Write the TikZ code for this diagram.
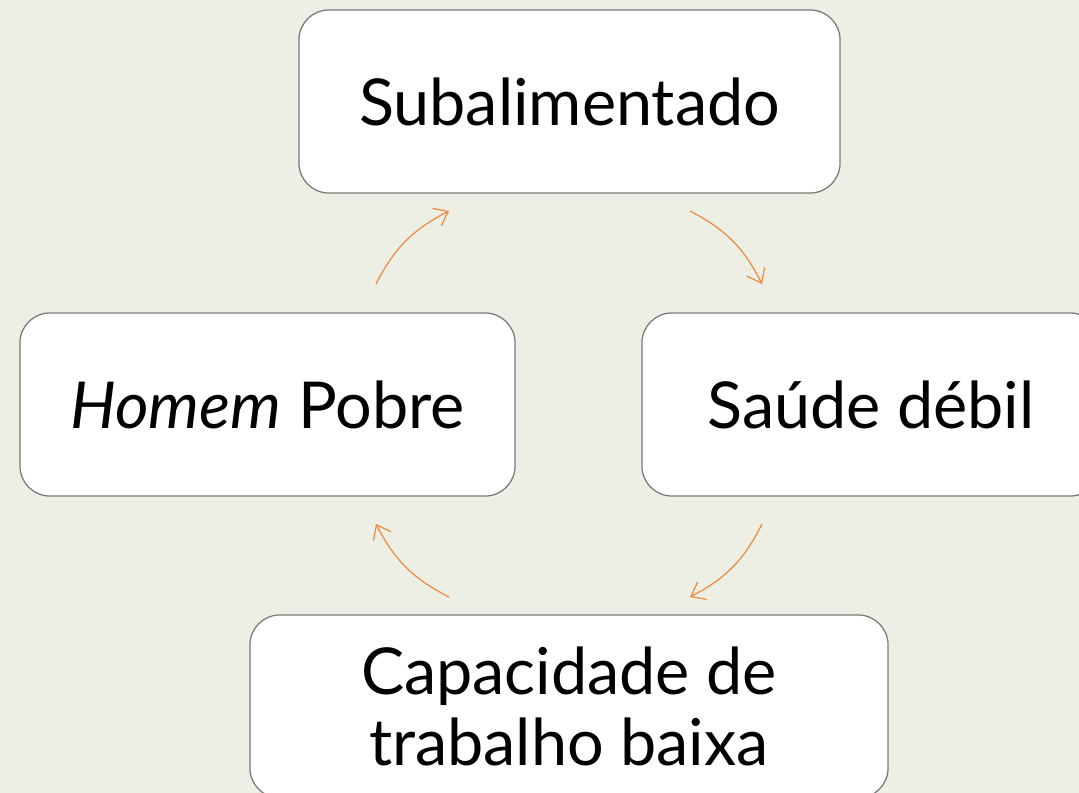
\documentclass[tikz,border=0pt]{standalone}
\usepackage{fontspec}
\setmainfont{Lato}
\usetikzlibrary{arrows.meta}
\definecolor{bgcol}{HTML}{EDEEE4}
\definecolor{arrcol}{HTML}{EE8A3C}
\definecolor{boxline}{HTML}{7A7A7A}
\begin{document}
\begin{tikzpicture}[x=0.025cm, y=-0.025cm,
    box/.style = {draw=boxline, line width=0.9pt, fill=white, rounded corners=0.75cm,
      minimum height=4.575cm, align=center, font=\fontsize{46}{51}\selectfont},
    cyc/.style = {draw=arrcol, line width=0.85pt, -{Straight Barb[length=9pt,width=14pt]}, bend left=18}]

		\useasboundingbox (0,0) rectangle (1079,793);
		\fill[bgcol] (0,0) rectangle (1079,793);
		\clip (0,0) rectangle (1079,793);

		\node[box, minimum width=13.525cm] (sub) at (569.5,101.5) {Subalimentado};
		\node[box, minimum width=12.375cm] (homem) at (267.5,404.5) {\textit{Homem} Pobre};
		\node[box, minimum width=11.45cm] (saude) at (871,404.5) {Saúde débil};
		\node[box, minimum width=15.95cm] (cap) at (569,706.5) {Capacidade de\\trabalho baixa};

		\coordinate (a1) at (376,284);
		\coordinate (a2) at (449,211);
		\coordinate (b1) at (690,211);
		\coordinate (b2) at (762,284);
		\coordinate (c1) at (762,524);
		\coordinate (c2) at (690,597);
		\coordinate (d1) at (449,597);
		\coordinate (d2) at (376,524);

		\draw[cyc] (a1) to (a2);
		\draw[cyc] (b1) to (b2);
		\draw[cyc] (c1) to (c2);
		\draw[cyc] (d1) to (d2);
	\end{tikzpicture}
\end{document}
